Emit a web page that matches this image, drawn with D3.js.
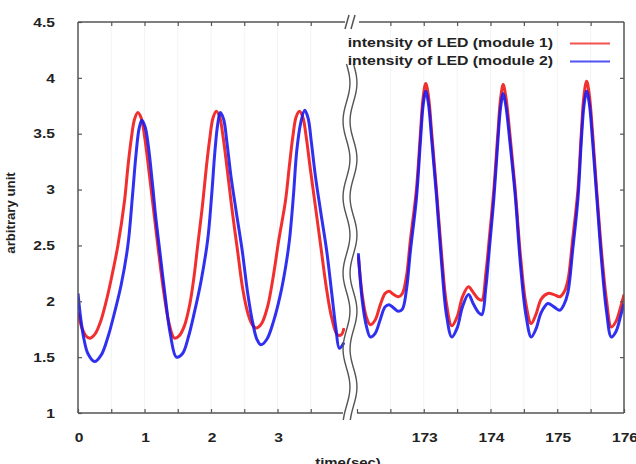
<!DOCTYPE html>
<html><head><meta charset="utf-8">
<script src="https://cdn.jsdelivr.net/npm/d3@7/dist/d3.min.js"></script>
<style>
html,body{margin:0;padding:0;background:#fff;}
svg text{font-family:"Liberation Sans",Arial,sans-serif;font-weight:bold;fill:#222;}
</style></head>
<body><svg id="c" width="636" height="464"></svg>
<script>
// ---- data ----
const leftTicks = [0,1,2,3];
const rightTicks = [173,174,175,176];
const yTicks = [1,1.5,2,2.5,3,3.5,4,4.5];
const seriesNames = ["intensity of LED (module 1)","intensity of LED (module 2)"];

const leftTime1 = [0.00,0.06,0.12,0.18,0.26,0.34,0.42,0.50,0.60,0.70,0.75,0.80,0.85,0.90,0.95,1.00,1.06,1.13,1.21,1.29,1.37,1.45,1.52,1.60,1.68,1.74,1.80,1.87,1.93,1.98,2.03,2.08,2.13,2.18,2.24,2.31,2.40,2.48,2.56,2.62,2.68,2.76,2.85,2.93,3.02,3.12,3.18,3.23,3.28,3.33,3.38,3.43,3.49,3.57,3.66,3.74,3.82,3.90,3.96,4.00];
const leftRed   = [1.90,1.76,1.69,1.67,1.71,1.82,1.99,2.20,2.50,2.90,3.20,3.45,3.63,3.69,3.64,3.48,3.20,2.85,2.45,2.08,1.80,1.67,1.69,1.78,1.97,2.20,2.50,2.85,3.20,3.45,3.64,3.70,3.65,3.48,3.20,2.85,2.45,2.10,1.88,1.79,1.76,1.80,1.95,2.20,2.55,2.90,3.22,3.47,3.65,3.70,3.65,3.48,3.20,2.85,2.45,2.10,1.84,1.70,1.70,1.76];

const leftTime2 = [0.00,0.04,0.09,0.15,0.25,0.35,0.45,0.55,0.65,0.75,0.82,0.87,0.92,0.96,1.01,1.06,1.12,1.17,1.23,1.31,1.39,1.48,1.57,1.66,1.75,1.85,1.95,2.01,2.06,2.10,2.14,2.19,2.24,2.30,2.38,2.47,2.55,2.63,2.69,2.75,2.84,2.94,3.04,3.12,3.18,3.24,3.29,3.35,3.41,3.46,3.51,3.57,3.65,3.74,3.82,3.88,3.93,4.00];
const leftBlue  = [2.07,1.85,1.66,1.53,1.46,1.52,1.68,1.90,2.15,2.50,2.95,3.30,3.55,3.62,3.56,3.38,3.05,2.75,2.45,2.05,1.70,1.50,1.53,1.68,1.90,2.18,2.55,2.95,3.35,3.58,3.69,3.63,3.42,3.12,2.80,2.45,2.08,1.80,1.66,1.61,1.66,1.82,2.05,2.30,2.55,2.95,3.35,3.60,3.71,3.64,3.42,3.12,2.80,2.45,2.05,1.75,1.58,1.63];

const rightTime = [172.02,172.08,172.14,172.20,172.27,172.35,172.42,172.48,172.55,172.62,172.68,172.74,172.80,172.89,172.95,172.99,173.03,173.07,173.12,173.19,173.27,173.34,173.42,173.50,173.58,173.67,173.74,173.82,173.87,173.93,173.98,174.05,174.11,174.15,174.19,174.23,174.29,174.37,174.45,174.53,174.61,174.68,174.76,174.86,174.95,175.04,175.10,175.16,175.23,175.31,175.36,175.40,175.44,175.48,175.53,175.59,175.67,175.74,175.81,175.88,175.95,176.00];
const rightRed  = [2.40,2.05,1.86,1.79,1.83,1.97,2.07,2.09,2.06,2.04,2.07,2.22,2.55,3.00,3.50,3.82,3.95,3.84,3.50,3.00,2.40,1.98,1.78,1.86,2.04,2.13,2.08,2.02,2.01,2.25,2.55,3.00,3.50,3.81,3.94,3.83,3.50,3.00,2.40,1.98,1.80,1.88,2.02,2.07,2.06,2.04,2.08,2.19,2.55,3.00,3.50,3.84,3.97,3.85,3.50,3.00,2.40,2.00,1.77,1.82,1.95,2.06];
const rightBlue = [2.43,2.00,1.78,1.68,1.71,1.84,1.95,1.97,1.94,1.91,1.93,2.10,2.45,2.92,3.43,3.75,3.88,3.77,3.44,2.95,2.32,1.88,1.68,1.76,1.95,2.06,1.98,1.90,1.88,2.12,2.45,2.92,3.43,3.73,3.86,3.75,3.43,2.95,2.32,1.88,1.68,1.75,1.90,1.98,1.95,1.92,1.97,2.08,2.45,2.92,3.43,3.75,3.88,3.77,3.43,2.95,2.32,1.90,1.68,1.73,1.87,1.98];

const colors = ["#f01818","#1a1aee"];

// ---- layout ----
const svg = d3.select("#c");
const L = 78, R = 624, T = 22, B = 413, BR1 = 345, BR2 = 357;
const x1 = d3.scaleLinear().domain([0,4]).range([L,BR1-1]);
const x2 = d3.scaleLinear().domain([172,176]).range([BR2,R]);
const y = d3.scaleLinear().domain([1,4.5]).range([B,T]);
const frameCol = "#555";

// faint grid
const g0 = svg.append("g");
d3.range(0.5,4,0.5).forEach(t=>g0.append("line").attr("x1",x1(t)).attr("x2",x1(t)).attr("y1",T).attr("y2",B).attr("stroke","#f3f3f3"));
d3.range(172.5,176,0.5).forEach(t=>g0.append("line").attr("x1",x2(t)).attr("x2",x2(t)).attr("y1",T).attr("y2",B).attr("stroke","#f3f3f3"));

// clips
const defs = svg.append("defs");
defs.append("clipPath").attr("id","cl").append("rect").attr("x",L).attr("y",T).attr("width",BR1-L).attr("height",B-T);
defs.append("clipPath").attr("id","cr").append("rect").attr("x",BR2).attr("y",T).attr("width",R-BR2).attr("height",B-T);

function drawLine(clip, xs, ts, vs, col){
  const pts = ts.map((t,i)=>[t,vs[i]]);
  const line = d3.line().x(d=>xs(d[0])).y(d=>y(d[1])).curve(d3.curveCatmullRom.alpha(0.5));
  svg.append("path").attr("clip-path","url(#"+clip+")").attr("d",line(pts))
    .attr("fill","none").attr("stroke",col).attr("stroke-width",3).attr("stroke-opacity",0.9).attr("stroke-linejoin","round");
}
drawLine("cl",x1,leftTime1,leftRed,colors[0]);
drawLine("cl",x1,leftTime2,leftBlue,colors[1]);
drawLine("cr",x2,rightTime,rightRed,colors[0]);
drawLine("cr",x2,rightTime,rightBlue,colors[1]);

// axes (ticks inward)
function styleAxis(g){ g.selectAll("path").remove(); g.selectAll("line").attr("stroke",frameCol).attr("stroke-width",1.2); }
const bl = svg.append("g").attr("transform",`translate(0,${B})`).call(d3.axisBottom(x1).tickValues(d3.range(0,4,0.5)).tickSizeInner(-4).tickFormat(""));
const br = svg.append("g").attr("transform",`translate(0,${B})`).call(d3.axisBottom(x2).tickValues(d3.range(172,176.01,0.5)).tickSizeInner(-4).tickFormat(""));
const tl = svg.append("g").attr("transform",`translate(0,${T})`).call(d3.axisTop(x1).tickValues(d3.range(0.5,4,0.5)).tickSizeInner(-4).tickFormat(""));
const tr = svg.append("g").attr("transform",`translate(0,${T})`).call(d3.axisTop(x2).tickValues(d3.range(172.5,176,0.5)).tickSizeInner(-4).tickFormat(""));
const ly = svg.append("g").attr("transform",`translate(${L},0)`).call(d3.axisLeft(y).tickValues(yTicks).tickSizeInner(-4).tickFormat(""));
const ry = svg.append("g").attr("transform",`translate(${R},0)`).call(d3.axisRight(y).tickValues(yTicks.slice(1,-1)).tickSizeInner(-4).tickFormat(""));
[bl,br,tl,tr,ly,ry].forEach(styleAxis);

// tick labels through scales
const fs = 13, sx = 1.2;
leftTicks.forEach(t=>svg.append("g").attr("transform",`translate(${x1(t)+1},442) scale(${sx},1)`).append("text").attr("text-anchor","middle").attr("font-size",fs).text(t));
rightTicks.forEach(t=>svg.append("g").attr("transform",`translate(${x2(t)+1},442) scale(${sx},1)`).append("text").attr("text-anchor","middle").attr("font-size",fs).text(t));
yTicks.forEach(v=>svg.append("g").attr("transform",`translate(55,${y(v)+4.7}) scale(${sx},1)`).append("text").attr("text-anchor","end").attr("font-size",fs).text(v));

// frame
const fr = svg.append("g").attr("stroke",frameCol).attr("stroke-width",1.5).attr("fill","none");
fr.append("line").attr("x1",L).attr("x2",L).attr("y1",T).attr("y2",B);
fr.append("line").attr("x1",R).attr("x2",R).attr("y1",T).attr("y2",B);
fr.append("line").attr("x1",L).attr("x2",BR1).attr("y1",T).attr("y2",T);
fr.append("line").attr("x1",BR2+2).attr("x2",R).attr("y1",T).attr("y2",T);
fr.append("line").attr("x1",L).attr("x2",BR1-2).attr("y1",B).attr("y2",B);
fr.append("line").attr("x1",BR2).attr("x2",R).attr("y1",B).attr("y2",B);

// break marks
[347,353].forEach(cx=>{
  fr.append("line").attr("x1",cx-2).attr("y1",T+7).attr("x2",cx+2).attr("y2",T-7);
});
const wave = d3.line().curve(d3.curveBasis);
[346.5,353.5].forEach(cx=>{
  const pts = d3.range(64,423,4).map(yy=>[cx+3.5*Math.sin((yy-64)/76*2*Math.PI),yy]);
  fr.append("path").attr("d",wave(pts)).attr("stroke-width",1.4);
});

// legend
seriesNames.forEach((n,i)=>{
  const yy = 46.5 + i*18;
  svg.append("g").attr("transform",`translate(553,${yy}) scale(1.22,1)`).append("text").attr("text-anchor","end").attr("font-size",13).text(n);
  svg.append("line").attr("x1",570).attr("x2",610).attr("y1",yy-3).attr("y2",yy-3).attr("stroke",colors[i]).attr("stroke-width",1.8).attr("stroke-opacity",0.75);
});

// axis titles
svg.append("g").attr("transform",`translate(348,467) scale(1.15,1)`).append("text").attr("text-anchor","middle").attr("font-size",13).text("time(sec)");
svg.append("g").attr("transform",`translate(15,213) rotate(-90) scale(1.1,1)`).append("text").attr("text-anchor","middle").attr("font-size",12).attr("fill","#333").text("arbitrary unit");
</script></body></html>
